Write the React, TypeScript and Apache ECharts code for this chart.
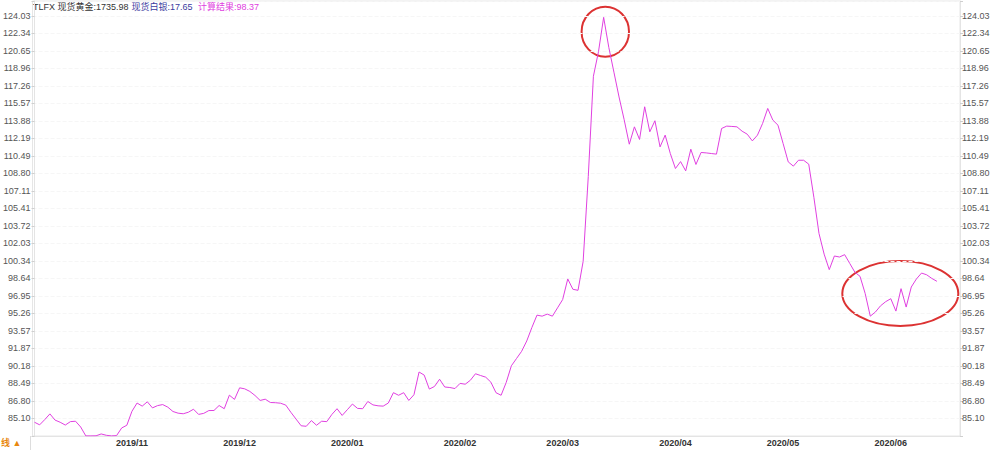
import React, { useEffect, useRef } from "react";
import * as echarts from "echarts";

// ratio series (gold / silver), daily, 2019-10-07 .. 2020-06-12 (weekdays, minus holidays)
const ratioValues: number[] = [
  84.74, 84.49, 85.0, 85.55, 84.95, 84.74, 84.47, 84.8, 84.84, 84.28,
  83.42, 83.42, 83.43, 83.61, 83.48, 83.42, 83.45, 84.19, 84.45, 85.8,
  86.6, 86.3, 86.72, 86.13, 86.35, 86.45, 86.2, 85.78, 85.62, 85.56,
  85.71, 86.0, 85.5, 85.6, 85.87, 85.88, 86.36, 86.05, 87.36, 86.95,
  88.07, 87.97, 87.72, 87.33, 86.85, 86.97, 86.65, 86.63, 86.58, 86.4,
  85.7, 85.05, 84.4, 84.35, 84.9, 84.45, 84.84, 84.8, 85.5, 86.05,
  85.4, 85.95, 86.5, 86.08, 86.05, 86.75, 86.42, 86.33, 86.3, 86.6,
  87.6, 87.35, 87.6, 86.85, 87.4, 89.6, 89.3, 87.95, 88.2, 88.9,
  88.15, 88.1, 88.0, 88.5, 88.42, 88.8, 89.43, 89.26, 89.1, 88.62,
  87.6, 87.35, 88.6, 90.2, 90.9, 91.6, 92.6, 93.9, 95.1, 95.0,
  95.2, 95.0, 95.8, 96.6, 98.6, 97.6, 97.5, 100.3, 108.5, 118.2,
  120.6, 123.9, 121.0, 118.6, 116.2, 114.0, 111.63, 113.31, 112.09, 115.25,
  112.83, 113.9, 111.37, 112.51, 110.73, 109.28, 109.95, 109.05, 111.15, 109.67,
  110.83, 110.79, 110.73, 110.67, 113.15, 113.38, 113.35, 113.31, 112.89, 112.6,
  111.95, 112.51, 113.64, 115.09, 113.96, 113.47, 111.7, 109.92, 109.51, 110.08,
  110.08, 109.7, 106.5, 103.0, 101.0, 99.5, 100.82, 100.72, 100.95, 100.1,
  99.25, 98.85, 97.2, 95.0, 95.4, 96.0, 96.4, 96.69, 95.49, 97.66,
  95.88, 97.82, 98.6, 99.17, 99.0, 98.65, 98.37,
];

const startDay = "2019-10-07";
const holidays: string[] = ["2019-12-25", "2020-01-01", "2020-04-10"];

const yTickLabels: string[] = [
  "85.10", "86.80", "88.49", "90.18", "91.87", "93.57", "95.26", "96.95",
  "98.64", "100.34", "102.03", "103.72", "105.41", "107.11", "108.80", "110.49",
  "112.19", "113.88", "115.57", "117.26", "118.96", "120.65", "122.34", "124.03",
];
const yBase = 85.1035;
const yStep = 1.6926;

const headerTexts = [
  { text: "TLFX 现货黄金:1735.98", color: "#333333" },
  { text: "现货白银:17.65", color: "#3b3b9e" },
  { text: "计算结果:98.37", color: "#e040e0" },
];

function buildDates(count: number): string[] {
  const out: string[] = [];
  const d = new Date(startDay + "T00:00:00Z");
  while (out.length < count) {
    const wd = d.getUTCDay();
    const s = d.toISOString().slice(0, 10);
    if (wd !== 0 && wd !== 6 && holidays.indexOf(s) < 0) out.push(s);
    d.setUTCDate(d.getUTCDate() + 1);
  }
  return out;
}

const dates = buildDates(ratioValues.length);
const monthStarts: number[] = dates
  .map((s, i) => (i > 0 && s.slice(5, 7) !== dates[i - 1].slice(5, 7) ? i : -1))
  .filter((i) => i >= 0);

const FONT = '"Liberation Sans", Arial, "Noto Sans CJK SC", sans-serif';

function yLabel(v: number): string {
  const k = Math.round((v - yBase) / yStep);
  if (k < 0 || k >= yTickLabels.length) return "";
  if (Math.abs(yBase + k * yStep - v) > 0.05) return "";
  return yTickLabels[k];
}

export default function App() {
  const ref = useRef<HTMLDivElement | null>(null);
  useEffect(() => {
    if (!ref.current) return;
    const chart = echarts.init(ref.current, null, { renderer: "svg" });
    const yMin = yBase - yStep;
    const yMax = 125.48;
    const yAxisCommon = {
      type: "value",
      min: yMin,
      max: yMax,
      interval: yStep,
      axisLine: { show: true, lineStyle: { color: "#e4e4e4" } },
      axisTick: { show: true, length: 3, lineStyle: { color: "#cfcfcf" } },
      axisLabel: {
        formatter: yLabel,
        fontSize: 9,
        color: "#555",
        margin: 2,
        fontFamily: FONT,
      },
    };
    chart.setOption({
      animation: false,
      backgroundColor: "#ffffff",
      grid: {
        left: 31,
        right: 40,
        top: 1,
        bottom: 14,
        show: true,
        borderColor: "#e6e6e6",
        borderWidth: 1,
        containLabel: false,
      },
      xAxis: {
        type: "value",
        min: -0.39,
        max: 180.5,
        axisLine: { show: true, lineStyle: { color: "#e4e4e4" } },
        axisTick: { show: false },
        splitLine: { show: false },
        axisLabel: {
          customValues: monthStarts,
          formatter: (v: number) => {
            const d = dates[Math.round(v)];
            return d ? d.slice(0, 7).replace("-", "/") : "";
          },
          fontSize: 9,
          fontWeight: "bold",
          color: "#333",
          margin: 2,
          fontFamily: FONT,
        },
      },
      yAxis: [
        {
          ...yAxisCommon,
          position: "left",
          splitLine: { show: true, lineStyle: { color: "#f6f6f6", type: "dashed" } },
        },
        {
          ...yAxisCommon,
          position: "right",
          splitLine: { show: false },
        },
      ],
      series: [
        {
          type: "line",
          yAxisIndex: 0,
          data: ratioValues.map((v, i) => [i, v]),
          showSymbol: false,
          symbol: "none",
          lineStyle: { color: "#e040e0", width: 1 },
          itemStyle: { color: "#e040e0" },
        },
      ],
      graphic: [
        {
          type: "text",
          x: 33,
          y: 7,
          style: { text: headerTexts[0].text, fill: headerTexts[0].color, font: "9px " + FONT, verticalAlign: "middle" },
        },
        {
          type: "text",
          x: 131.5,
          y: 7,
          style: { text: headerTexts[1].text, fill: headerTexts[1].color, font: "9px " + FONT, verticalAlign: "middle" },
        },
        {
          type: "text",
          x: 198,
          y: 7,
          style: { text: headerTexts[2].text, fill: headerTexts[2].color, font: "9px " + FONT, verticalAlign: "middle" },
        },
        {
          type: "text",
          x: 1,
          y: 443,
          style: { text: "线 ▲", fill: "#e8870e", font: "bold 9px " + FONT, align: "left", verticalAlign: "middle" },
        },
        {
          type: "line",
          shape: { x1: 30.5, y1: 436, x2: 30.5, y2: 450 },
          style: { stroke: "#dddddd", lineWidth: 1 },
        },
        {
          type: "ellipse",
          shape: { cx: 605.3, cy: 31.7, rx: 23.7, ry: 25 },
          style: { fill: "none", stroke: "#dc3232", lineWidth: 2 },
        },
        {
          type: "ellipse",
          shape: { cx: 900.3, cy: 293.5, rx: 58, ry: 32.5 },
          style: { fill: "none", stroke: "#dc3232", lineWidth: 2 },
        },
      ],
    });
    return () => chart.dispose();
  }, []);
  return (
    <div
      ref={ref}
      style={{ position: "absolute", left: 0, top: 0, width: 1000, height: 450, background: "#fff" }}
    />
  );
}
